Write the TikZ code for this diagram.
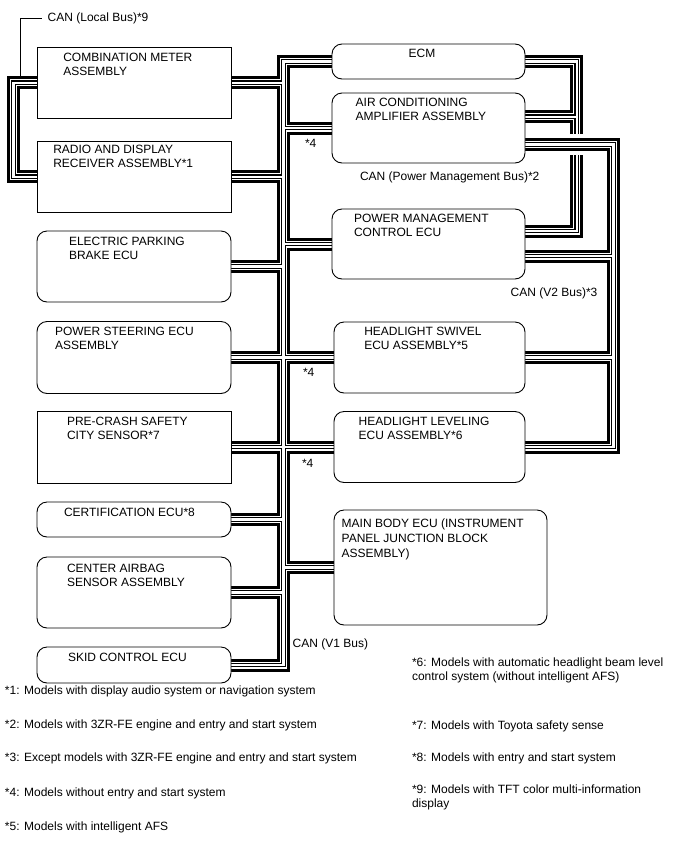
\documentclass[tikz,border=0pt]{standalone}
\usepackage{fontspec}
\setmainfont{Liberation Sans}
\usetikzlibrary{backgrounds}
\newcommand\bxfont{\fontsize{12}{14.3}\selectfont}
\newcommand\ntfont{\fontsize{12}{13.8}\selectfont}
\newcommand\canbus[1]{%
  \draw[line width=13pt] #1;
  \draw[line width=7pt,white] #1;
  \draw[line width=4.6pt] #1;
  \draw[line width=2.4pt,white] #1;}
\begin{document}
\begin{tikzpicture}[x=1pt,y=-1pt,
  every node/.style={inner sep=0pt,outer sep=0pt},
  sqbox/.style={draw,line width=0.9pt,fill=white,rectangle,minimum width=194pt},
  rbox/.style={sqbox,rounded corners=10pt},
  lbl/.style={anchor=north west,align=left,font=\bxfont},
  note/.style={anchor=north west,align=left,font=\ntfont},
  leader/.style={line width=0.8pt}]
\useasboundingbox (0,0) rectangle (688,852);

% left column
\node[sqbox,minimum height=71.5pt] (cm) at (134,82.75) {};
\node[sqbox,minimum height=71.5pt] (radio) at (134,176.75) {};
\node[rbox,minimum height=71pt] (epb) at (134,266.5) {};
\node[rbox,minimum height=72pt] (ps) at (134,357.5) {};
\node[sqbox,minimum height=72pt] (pcs) at (134,447) {};
\node[rbox,minimum height=35pt] (cert) at (134,519.5) {};
\node[rbox,minimum height=71pt] (cab) at (134,592.5) {};
\node[rbox,minimum height=36pt] (skid) at (134,665) {};
% right column
\node[rbox,minimum width=193pt,minimum height=35pt] (ecm) at (428.5,61.5) {};
\node[rbox,minimum width=193pt,minimum height=70pt] (ac) at (428.5,128) {};
\node[rbox,minimum width=193pt,minimum height=70pt] (pm) at (428.5,244) {};
\node[rbox,minimum width=191pt,minimum height=71pt] (sw) at (429.5,357.5) {};
\node[rbox,minimum width=191pt,minimum height=71pt] (lev) at (429.5,447) {};
\node[rbox,minimum width=213pt,minimum height=115pt] (mb) at (440.5,567.5) {};

% box texts
\node[lbl] (cmt) at (63.3,53.3) {COMBINATION METER\\ASSEMBLY};
\node[lbl] (radiot) at (53.3,145) {RADIO AND DISPLAY\\RECEIVER ASSEMBLY*1};
\node[lbl] (epbt) at (69,237) {ELECTRIC PARKING\\BRAKE ECU};
\node[lbl] (pst) at (55,327) {POWER STEERING ECU\\ASSEMBLY};
\node[lbl] (pcst) at (67,417) {PRE-CRASH SAFETY\\CITY SENSOR*7};
\node[lbl] (certt) at (64,508) {CERTIFICATION ECU*8};
\node[lbl] (cabt) at (67,564) {CENTER AIRBAG\\SENSOR ASSEMBLY};
\node[lbl] (skidt) at (68,653) {SKID CONTROL ECU};
\node[font=\bxfont,anchor=north] (ecmt) at (422,49.5) {ECM};
\node[lbl] (act) at (355.7,97.7) {AIR CONDITIONING\\AMPLIFIER ASSEMBLY};
\node[lbl] (pmt) at (354,214.3) {POWER MANAGEMENT\\CONTROL ECU};
\node[lbl] (swt) at (364.3,327.3) {HEADLIGHT SWIVEL\\ECU ASSEMBLY*5};
\node[lbl] (levt) at (358.7,417.3) {HEADLIGHT LEVELING\\ECU ASSEMBLY*6};
\node[lbl,font=\fontsize{12}{15}\selectfont] (mbt) at (341.7,518.3) {MAIN BODY ECU (INSTRUMENT\\PANEL JUNCTION BLOCK\\ASSEMBLY)};

% bus labels
\node[lbl] (lb9) at (47.7,13) {CAN (Local Bus)*9};
\node[lbl] (s4a) at (305,139) {*4};
\node[lbl] (s4b) at (303,368) {*4};
\node[lbl] (s4c) at (302,459) {*4};
\node[lbl] (lpm) at (360,171.7) {CAN (Power Management Bus)*2};
\node[lbl] (lv2) at (510.7,288) {CAN (V2 Bus)*3};
\node[lbl] (lv1) at (292.7,638.3) {CAN (V1 Bus)};

% footnotes
\node[note] (n1) at (5,686) {*1: Models with display audio system or navigation system};
\node[note] (n2) at (5,720) {*2: Models with 3ZR-FE engine and entry and start system};
\node[note] (n3) at (5,753) {*3: Except models with 3ZR-FE engine and entry and start system};
\node[note] (n4) at (5,788) {*4: Models without entry and start system};
\node[note] (n5) at (5,821.5) {*5: Models with intelligent AFS};
\node[note] (n6) at (412,658) {*6: Models with automatic headlight beam level\\control system (without intelligent AFS)};
\node[note] (n7) at (412,721) {*7: Models with Toyota safety sense};
\node[note] (n8) at (412,753) {*8: Models with entry and start system};
\node[note] (n9) at (412,784.5) {*9: Models with TFT color multi-information\\display};

% bus geometry
\coordinate (v1) at (283.5,0);
\coordinate (loc) at (13.3,0);
\coordinate (pmb) at (576.7,0);
\coordinate (v2) at (613.5,0);
\coordinate (acpm) at ([yshift=11.3pt]ac.east);
\coordinate (acv2) at ([yshift=-16.5pt]ac.east);
\coordinate (pmpm) at ([yshift=13pt]pm.east);
\coordinate (pmv2) at ([yshift=-12pt]pm.east);
\coordinate (lbs) at (41.7,18.3);
\coordinate (lbc) at (20.7,18.3);
\coordinate (lbe) at (20.7,76.5);

\draw[leader] (lbs) -- (lbc) -- (lbe);

\begin{pgfonlayer}{background}
\canbus{(cm.west) -- (cm.west -| loc) -- (radio.west -| loc) -- (radio.west)}
\canbus{(ecm.west) -- (ecm.west -| v1) -- (skid.east -| v1) -- (skid.east)
  (cm.east) -- (cm.east -| v1)
  (radio.east) -- (radio.east -| v1)
  (epb.east) -- (epb.east -| v1)
  (ps.east) -- (sw.west)
  (pcs.east) -- (lev.west)
  (cert.east) -- (cert.east -| v1)
  (cab.east) -- (cab.east -| v1)
  (ac.west) -- (ac.west -| v1)
  (pm.west) -- (pm.west -| v1)
  (mb.west) -- (mb.west -| v1)}
\canbus{(ecm.east) -- (ecm.east -| pmb) -- (pmpm -| pmb) -- (pmpm)
  (acpm) -- (acpm -| pmb)}
\draw[white,line width=21pt] ([xshift=-10pt]acv2 -| pmb) -- ([xshift=10pt]acv2 -| pmb);
\canbus{(acv2) -- (acv2 -| v2) -- (lev.east -| v2) -- (lev.east)
  (pmv2) -- (pmv2 -| v2)
  (sw.east) -- (sw.east -| v2)}
\end{pgfonlayer}
\end{tikzpicture}
\end{document}
